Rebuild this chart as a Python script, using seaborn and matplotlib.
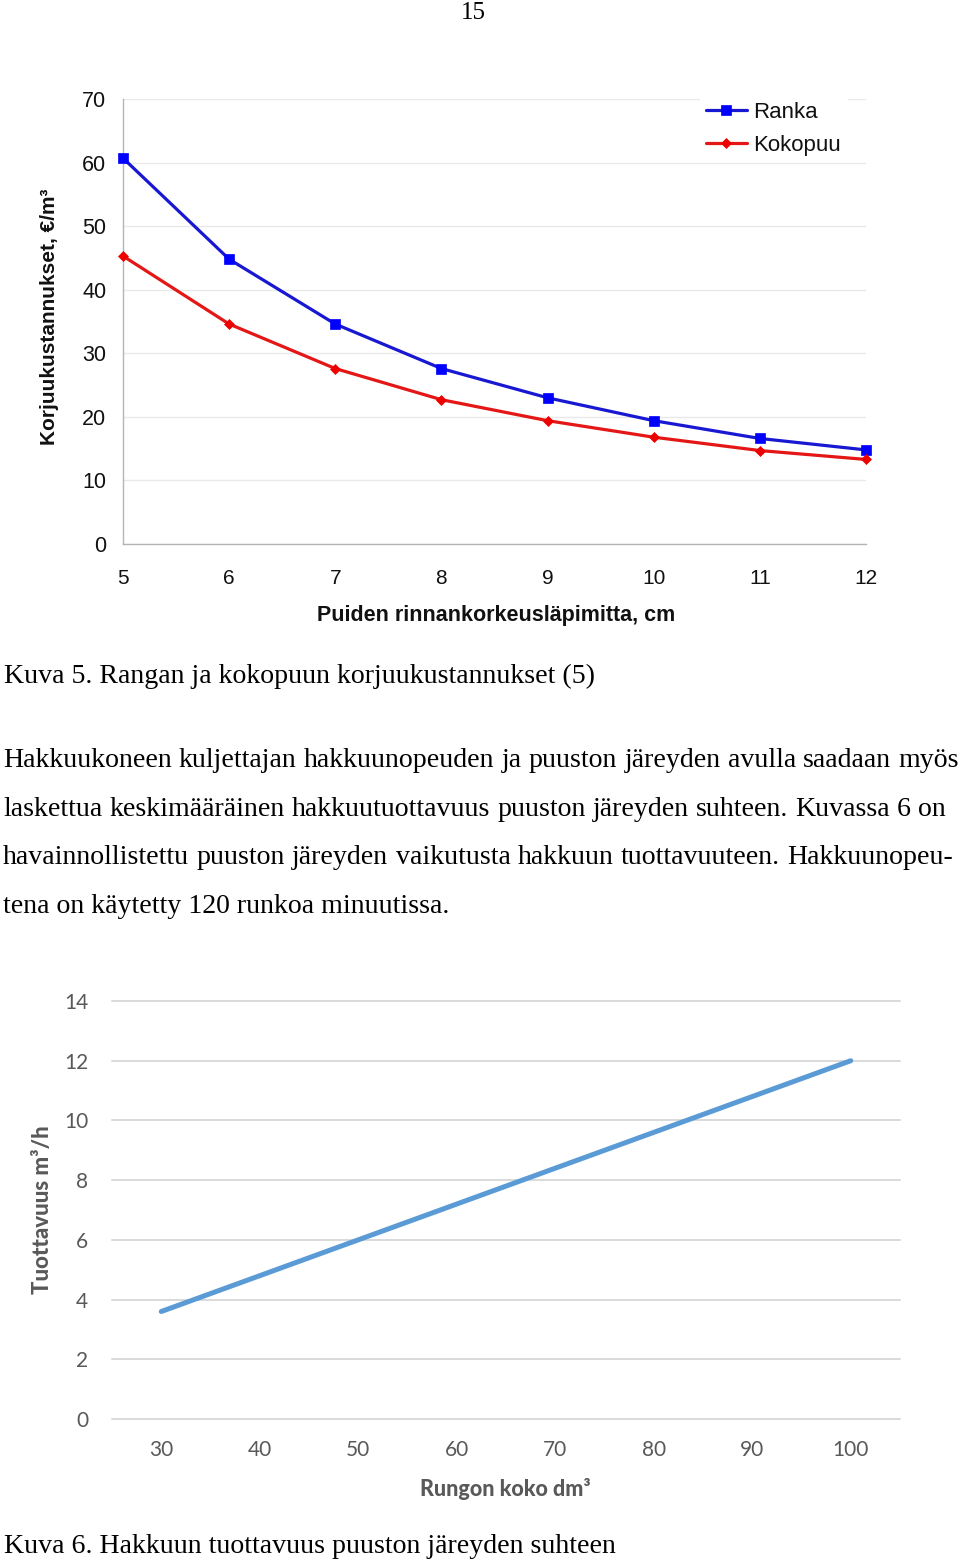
import numpy as np
import pandas as pd
import matplotlib
matplotlib.use("Agg")
import matplotlib.pyplot as plt
import seaborn as sns

# ---- data ----
diameter_cm = [5, 6, 7, 8, 9, 10, 11, 12]
ranka = [60.7, 44.8, 34.6, 27.6, 23.0, 19.4, 16.6, 14.8]
kokopuu = [45.3, 34.6, 27.6, 22.7, 19.4, 16.8, 14.7, 13.3]
cost_ticks = [0, 10, 20, 30, 40, 50, 60, 70]

stem_size_dm3 = [30, 40, 50, 60, 70, 80, 90, 100]
productivity = [3.6, 4.8, 6.0, 7.2, 8.4, 9.6, 10.8, 12.0]
prod_ticks = [0, 2, 4, 6, 8, 10, 12, 14]

page_number = "15"
caption5 = "Kuva 5. Rangan ja kokopuun korjuukustannukset (5)"
caption6 = "Kuva 6. Hakkuun tuottavuus puuston järeyden suhteen"
body_lines = [
    "Hakkuukoneen kuljettajan hakkuunopeuden ja puuston järeyden avulla saadaan myös",
    "laskettua keskimääräinen hakkuutuottavuus puuston järeyden suhteen. Kuvassa 6 on",
    "havainnollistettu puuston järeyden vaikutusta hakkuun tuottavuuteen. Hakkuunopeu-",
    "tena on käytetty 120 runkoa minuutissa.",
]

sns.set_theme(style="white")
plt.rcParams['font.family'] = ['Liberation Sans', 'DejaVu Sans']

W, H = 960, 1561
fig = plt.figure(figsize=(W / 100, H / 100), dpi=100)
fig.patch.set_facecolor("white")
renderer = fig.canvas.get_renderer()
SERIF = ['Liberation Serif', 'DejaVu Serif']
CAL = ["Lato", "DejaVu Sans"]


def ax_rect(l, t, r, b):
    return [l / W, 1 - b / H, (r - l) / W, (b - t) / H]


# ================= Chart 1 =================
ax1 = fig.add_axes(ax_rect(123, 99, 866, 544))
df1 = pd.DataFrame({"d": diameter_cm, "ranka": ranka, "kokopuu": kokopuu})
sns.lineplot(data=df1, x="d", y="ranka", ax=ax1, color="#1818d2", lw=2.3,
             marker="s", markersize=7, markerfacecolor="#0000ff",
             markeredgecolor="#0000ff", markeredgewidth=0.5,
             label="Ranka", clip_on=False, zorder=4)
sns.lineplot(data=df1, x="d", y="kokopuu", ax=ax1, color="#e41616", lw=2.3,
             marker="D", markersize=5, markerfacecolor="#ee0000",
             markeredgecolor="#ee0000", markeredgewidth=0.5,
             label="Kokopuu", clip_on=False, zorder=4)
ax1.set_xlim(5, 12)
ax1.set_ylim(0, 70)
ax1.set_xticks(diameter_cm)
ax1.set_xticklabels([str(v) for v in diameter_cm])
ax1.set_yticks(cost_ticks)
ax1.set_yticklabels([str(v) for v in cost_ticks])
ax1.grid(axis="y", color="#e9e9e9", lw=1.0)
ax1.grid(axis="x", visible=False)
for s in ["top", "right"]:
    ax1.spines[s].set_visible(False)
for s in ["left", "bottom"]:
    ax1.spines[s].set_color("#b4b4b4")
    ax1.spines[s].set_linewidth(1.0)
ax1.tick_params(axis="x", direction="out", length=6, width=1, color="#b4b4b4",
                labelsize=15, pad=12, labelcolor="#111111")
ax1.tick_params(axis="y", direction="out", length=6, width=1, color="#e0e0e0",
                labelsize=15.5, pad=6, labelcolor="#111111")
ax1.set_ylabel("Korjuukustannukset, €/m³", fontsize=15, fontweight="bold",
               color="#111111", ha="center", va="center", rotation_mode="default")
ax1.yaxis.set_label_coords((50 - 123) / 743, (544 - 316.5) / 445)
ax1.set_xlabel("Puiden rinnankorkeusläpimitta, cm", fontsize=15.5, fontweight="bold",
               color="#111111", ha="center", va="center")
ax1.xaxis.set_label_coords((496 - 123) / 743, (544 - 615) / 445)
leg = ax1.legend(loc="upper left", bbox_to_anchor=((700 - 123) / 743, 1 + 3 / 445),
                 frameon=True, fancybox=False, fontsize=16, handlelength=1.85,
                 handletextpad=0.3, labelspacing=0.55, borderpad=0.25,
                 borderaxespad=0)
leg.get_frame().set_facecolor("white")
leg.get_frame().set_edgecolor("white")
leg.get_frame().set_alpha(1)
for t in leg.get_texts():
    t.set_color("#111111")

# ================= Chart 2 =================
ax2 = fig.add_axes(ax_rect(112, 1001, 900, 1419))
df2 = pd.DataFrame({"size": stem_size_dm3, "prod": productivity})
sns.lineplot(data=df2, x="size", y="prod", ax=ax2, color="#5b9bd5", lw=3.6,
             solid_capstyle="round", zorder=4)
ax2.set_xlim(25, 105)
ax2.set_ylim(0, 14)
ax2.set_xticks(stem_size_dm3)
ax2.set_xticklabels([str(v) for v in stem_size_dm3])
ax2.set_yticks(prod_ticks)
ax2.set_yticklabels([str(v) for v in prod_ticks])
ax2.grid(axis="y", color="#d9d9d9", lw=1.4)
ax2.grid(axis="x", visible=False)
for gl in ax2.get_ygridlines():
    gl.set_clip_on(False)
for s in ax2.spines.values():
    s.set_visible(False)
ax2.tick_params(axis="both", length=0, labelsize=15, labelcolor="#595959")
ax2.tick_params(axis="x", pad=15)
ax2.tick_params(axis="y", pad=17)
for lab in ax2.get_xticklabels() + ax2.get_yticklabels():
    lab.set_fontfamily(CAL)
ax2.set_ylabel("Tuottavuus m³/h", fontsize=16, fontweight="black", color="#595959",
               family=CAL, ha="center", va="center", rotation_mode="default")
ax2.yaxis.set_label_coords((43 - 112) / 788, (1419 - 1210) / 418)
ax2.set_xlabel("Rungon koko dm³", fontsize=15.5, fontweight="black", color="#595959",
               family=CAL, ha="center", va="center")
ax2.xaxis.set_label_coords((505 - 112) / 788, (1419 - 1489) / 418)


# ================= Document text =================
def fit_text(x, y_base, s, target_w):
    t = fig.text(x / W, 1 - y_base / H, s, fontsize=20, family=SERIF,
                 va="baseline", ha="left", color="#000000")
    w = t.get_window_extent(renderer).width
    t.set_fontsize(20 * target_w / w)
    return t


fig.text(473 / W, 1 - 19 / H, page_number, fontsize=18, family=SERIF,
         ha="center", va="baseline", color="#000000")

fit_text(4, 683, caption5, 592)
fit_text(4, 1553, caption6, 611)

last = fit_text(3, 913, body_lines[3], 447)
body_fs = last.get_fontsize()

baselines = [767, 816, 864]
right_edges = [959, 946, 953]
for line, yb, xr in zip(body_lines[:3], baselines, right_edges):
    words = line.split(" ")
    texts = [fig.text(0, 1 - yb / H, w, fontsize=body_fs, family=SERIF,
                      va="baseline", ha="left", color="#000000") for w in words]
    widths = [t.get_window_extent(renderer).width for t in texts]
    gap = (xr - 3 - sum(widths)) / (len(words) - 1)
    x = 3
    for t, w in zip(texts, widths):
        t.set_x(x / W)
        x += w + gap

fig.savefig("out.png", dpi=100, facecolor="white")
